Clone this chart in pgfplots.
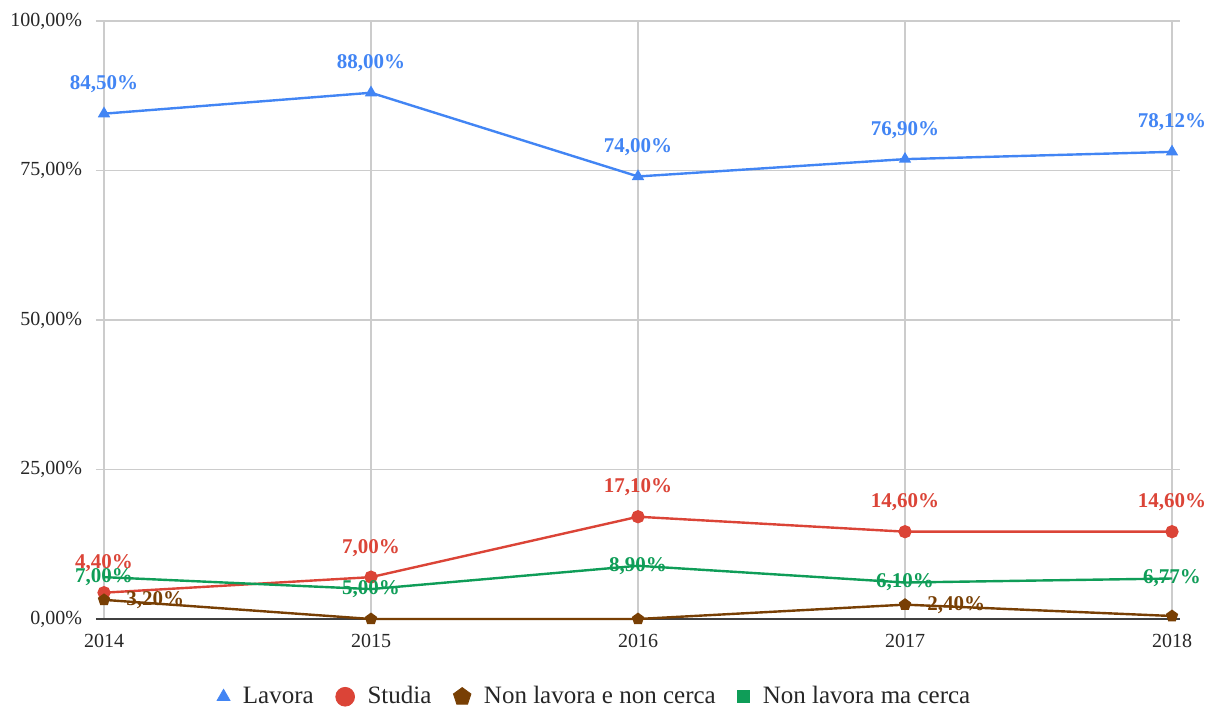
\documentclass[border=0pt]{standalone}
\usepackage{fontspec}
\setmainfont{Liberation Serif}
\usepackage{pgfplots}
\pgfplotsset{compat=1.18}
\definecolor{cblue}{RGB}{66,133,244}
\definecolor{cred}{RGB}{219,68,55}
\definecolor{cbrown}{RGB}{120,63,4}
\definecolor{cgreen}{RGB}{15,157,88}
\begin{document}
\begin{tikzpicture}
\begin{axis}[
  scale only axis, width=542pt, height=299pt,
  xmin=2013.97, xmax=2018.03, ymin=0, ymax=100,
  axis line style={draw=none},
  xtick={2014,2015,2016,2017,2018}, xticklabels={2014,2015,2016,2017,2018},
  ytick={0,25,50,75,100},
  yticklabels={{0,00\%},{25,00\%},{50,00\%},{75,00\%},{100,00\%}},
  major tick length=0pt,
  grid=major, grid style={draw=black!20, line width=0.6pt},
  extra y ticks={0}, extra y tick labels={},
  extra y tick style={grid style={draw=black!75, line width=0.8pt}},
  tick label style={font=\fontsize{10}{12}\selectfont, text=black!85},
  xticklabel style={yshift=-4pt},
  yticklabel style={xshift=-3.5pt},
  clip=false,
  point meta=explicit symbolic,
  legend style={at={(0.461,-0.13)}, anchor=center, draw=none, fill=none,
    legend columns=4, font=\fontsize{12.5}{14}\selectfont, text=black!85,
    /tikz/every odd column/.append style={column sep=4.5pt},
    /tikz/every even column/.append style={column sep=9pt}},
  legend cell align=left,
  legend image code/.code={\draw[#1] plot coordinates {(0pt,0pt)};},
]
\addlegendimage{only marks, mark=triangle*, mark size=3.7pt, color=cblue}
\addlegendentry{Lavora}
\addlegendimage{only marks, mark=*, mark size=4.7pt, color=cred}
\addlegendentry{Studia}
\addlegendimage{only marks, mark=pentagon*, mark size=4.6pt, color=cbrown}
\addlegendentry{Non lavora e non cerca}
\addlegendimage{only marks, mark=square*, mark size=3pt, color=cgreen}
\addlegendentry{Non lavora ma cerca}

% Lavora
\addplot[forget plot, color=cblue, line width=1.2pt, mark=triangle*, mark size=2.4pt,
  nodes near coords,
  nodes near coords style={anchor=base, yshift=12pt, inner sep=0pt,
    font=\bfseries\fontsize{10.5}{12}\selectfont, text=cblue}]
coordinates {(2014,84.5) [84,50\%] (2015,88) [88,00\%] (2016,74) [74,00\%]
  (2017,76.9) [76,90\%] (2018,78.12) [78,12\%]};
% Studia
\addplot[forget plot, color=cred, line width=1.2pt, mark=*, mark size=2.7pt,
  nodes near coords,
  nodes near coords style={anchor=base, yshift=12pt, inner sep=0pt,
    font=\bfseries\fontsize{10.5}{12}\selectfont, text=cred}]
coordinates {(2014,4.4) [4,40\%] (2015,7) [7,00\%] (2016,17.1) [17,10\%]
  (2017,14.6) [14,60\%] (2018,14.6) [14,60\%]};
% Non lavora e non cerca
\addplot[forget plot, color=cbrown, line width=1.2pt, mark=pentagon*, mark size=2.5pt]
coordinates {(2014,3.2) (2015,0) (2016,0) (2017,2.4) (2018,0.5)};
\addplot[forget plot, draw=none, mark=none,
  nodes near coords,
  nodes near coords style={anchor=west, xshift=11pt, inner sep=0pt,
    font=\bfseries\fontsize{10.5}{12}\selectfont, text=cbrown}]
coordinates {(2014,3.2) [3,20\%] (2017,2.4) [2,40\%]};
% Non lavora ma cerca
\addplot[forget plot, color=cgreen, line width=1.2pt, mark=none,
  nodes near coords,
  nodes near coords style={anchor=center, inner sep=0pt,
    font=\bfseries\fontsize{10.5}{12}\selectfont, text=cgreen}]
coordinates {(2014,7) [7,00\%] (2015,5) [5,00\%] (2016,8.9) [8,90\%]
  (2017,6.1) [6,10\%] (2018,6.77) [6,77\%]};
\end{axis}
\useasboundingbox (-48pt,-44.5pt) rectangle (559.5pt,309.5pt);
\end{tikzpicture}
\end{document}
